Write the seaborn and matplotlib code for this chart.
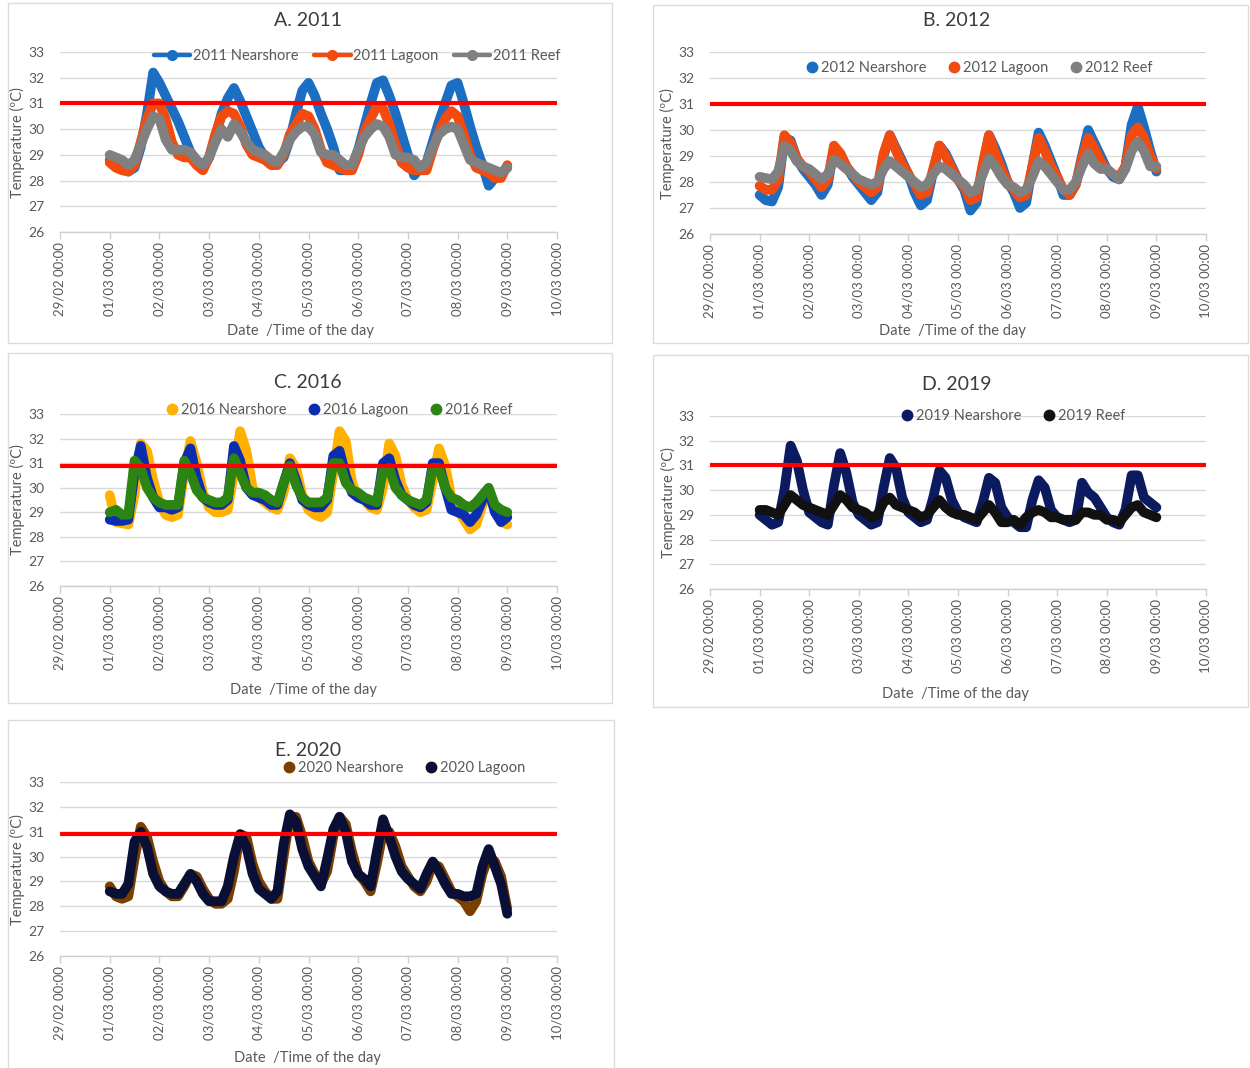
import numpy as np
import pandas as pd
import matplotlib
matplotlib.use("Agg")
import matplotlib.pyplot as plt
from matplotlib.lines import Line2D
from matplotlib.patches import Rectangle
import seaborn as sns

sns.set_theme(style="white")
plt.rcParams["font.family"] = ["Lato", "DejaVu Sans"]

W, H = 1250, 1068

# Logger readings every 3 h, in hours since 01/03 00:00
hours = list(range(0, 193, 3))

tick_labels = ["29/02 00:00", "01/03 00:00", "02/03 00:00", "03/03 00:00",
               "04/03 00:00", "05/03 00:00", "06/03 00:00", "07/03 00:00",
               "08/03 00:00", "09/03 00:00", "10/03 00:00"]

# ---- 2011 ----
ns_2011 = [28.8, 28.6, 28.45, 28.35, 28.5, 29.3, 30.6, 32.2,
           31.8, 31.3, 30.8, 30.3, 29.7, 29.1, 28.8, 28.5,
           28.9, 29.7, 30.6, 31.2, 31.6, 31.1, 30.5, 29.9,
           29.3, 28.9, 28.8, 28.7, 28.9, 29.6, 30.6, 31.5,
           31.8, 31.3, 30.6, 30.0, 29.3, 28.4, 28.4, 28.5,
           29.2, 30.1, 31.0, 31.8, 31.9, 31.3, 30.6, 29.8,
           29.0, 28.2, 28.5, 28.7, 29.5, 30.3, 31.0, 31.7,
           31.8, 31.0, 30.1, 29.3, 28.6, 27.8, 28.1, 28.3,
           28.5]
lag_2011 = [28.7, 28.5, 28.4, 28.35, 28.6, 29.5, 30.4, 31.0,
            31.0, 30.4, 29.5, 29.0, 28.9, 28.9, 28.6, 28.4,
            28.9, 29.8, 30.5, 30.7, 30.6, 30.1, 29.4, 29.0,
            28.9, 28.8, 28.6, 28.6, 29.0, 29.8, 30.2, 30.6,
            30.5, 30.0, 29.2, 28.7, 28.6, 28.5, 28.4, 28.4,
            29.0, 29.9, 30.4, 30.9, 30.8, 30.2, 29.4, 28.7,
            28.5, 28.4, 28.4, 28.4, 29.2, 29.9, 30.4, 30.7,
            30.5, 29.8, 29.0, 28.5, 28.4, 28.3, 28.1, 28.1,
            28.6]
reef_2011 = [29.0, 28.9, 28.8, 28.6, 28.8, 29.4, 30.0, 30.5,
             30.4, 29.6, 29.2, 29.2, 29.2, 29.1, 28.8, 28.6,
             28.9, 29.5, 30.0, 29.7, 30.2, 29.9, 29.5, 29.2,
             29.1, 29.0, 28.8, 28.7, 29.1, 29.6, 29.9, 30.1,
             30.1, 29.8, 29.1, 29.0, 29.0, 28.8, 28.6, 28.6,
             29.2, 29.7, 30.0, 30.2, 30.1, 29.7, 29.0, 28.9,
             28.9, 28.8, 28.5, 28.7, 29.3, 29.8, 30.0, 30.1,
             30.0, 29.4, 28.8, 28.7, 28.6, 28.5, 28.4, 28.3,
             28.5]

# ---- 2012 ----
ns_2012 = [27.5, 27.3, 27.25, 27.8, 29.7, 29.6, 28.9, 28.5,
           28.2, 27.9, 27.5, 27.9, 29.3, 29.1, 28.6, 28.2,
           27.9, 27.6, 27.3, 27.6, 29.0, 29.8, 29.3, 28.8,
           28.3, 27.6, 27.1, 27.3, 28.4, 29.4, 29.1, 28.6,
           28.1, 27.7, 26.9, 27.2, 28.6, 29.8, 29.3, 28.7,
           28.0, 27.6, 27.0, 27.2, 28.6, 29.9, 29.4, 28.8,
           28.2, 27.5, 27.5, 27.9, 29.0, 30.0, 29.5, 29.0,
           28.5, 28.2, 28.1, 28.6, 30.2, 30.9, 30.1, 29.2,
           28.4]
lag_2012 = [27.85, 27.7, 27.7, 28.1, 29.8, 29.5, 28.9, 28.6,
            28.4, 28.1, 27.8, 28.1, 29.4, 29.1, 28.6, 28.3,
            28.0, 27.8, 27.6, 27.8, 29.1, 29.8, 29.2, 28.7,
            28.3, 27.9, 27.5, 27.6, 28.5, 29.4, 29.0, 28.5,
            28.1, 27.8, 27.3, 27.4, 28.7, 29.8, 29.1, 28.5,
            28.0, 27.7, 27.4, 27.5, 28.6, 29.7, 29.2, 28.6,
            28.2, 27.7, 27.5, 27.9, 28.9, 29.7, 29.3, 28.8,
            28.5, 28.3, 28.2, 28.6, 29.8, 30.1, 29.7, 29.0,
            28.5]
reef_2012 = [28.2, 28.15, 28.1, 28.4, 29.4, 29.2, 28.8, 28.6,
             28.5, 28.3, 28.1, 28.3, 28.85, 28.7, 28.5, 28.3,
             28.1, 28.0, 27.9, 28.0, 28.5, 28.8, 28.6, 28.4,
             28.2, 28.0, 27.8, 27.9, 28.3, 28.6, 28.5, 28.3,
             28.1, 27.9, 27.6, 27.7, 28.3, 28.9, 28.6, 28.2,
             27.9, 27.8, 27.6, 27.7, 28.2, 28.8, 28.6, 28.3,
             28.0, 27.7, 27.7, 28.0, 28.6, 29.1, 28.7, 28.5,
             28.5, 28.3, 28.1, 28.5, 29.2, 29.55, 29.2, 28.6,
             28.6]

# ---- 2016 ----
ns_2016 = [29.7, 28.6, 28.55, 28.5, 29.7, 31.8, 31.5, 30.3,
           29.4, 28.9, 28.8, 28.9, 30.6, 31.9, 31.0, 29.8,
           29.2, 29.0, 29.0, 29.1, 30.6, 32.3, 31.5, 30.0,
           29.6, 29.4, 29.2, 29.1, 29.8, 31.2, 30.8, 29.7,
           29.1, 28.9, 28.8, 29.0, 30.6, 32.3, 31.9, 30.2,
           29.6, 29.5, 29.2, 29.1, 30.0, 31.8, 31.3, 30.1,
           29.5, 29.2, 29.0, 29.1, 30.3, 31.6, 30.9, 29.6,
           29.1, 28.7, 28.3, 28.5, 29.3, 29.8, 29.2, 28.6,
           28.5]
lag_2016 = [28.7, 28.65, 28.65, 28.7, 30.6, 31.7, 30.4, 29.6,
            29.2, 29.2, 29.1, 29.2, 31.0, 31.6, 30.4, 29.6,
            29.4, 29.3, 29.3, 29.5, 31.7, 31.1, 30.0, 29.7,
            29.6, 29.5, 29.3, 29.3, 30.2, 31.0, 30.3, 29.5,
            29.3, 29.2, 29.2, 29.5, 31.3, 31.5, 30.5, 29.8,
            29.6, 29.5, 29.3, 29.3, 31.0, 31.2, 30.3, 29.7,
            29.5, 29.3, 29.2, 29.4, 31.0, 31.0, 30.0, 29.1,
            29.0, 28.9, 28.6, 28.9, 29.5, 29.9, 29.0, 28.6,
            28.8]
reef_2016 = [29.0, 29.1, 28.9, 28.9, 31.1, 30.8, 30.0, 29.6,
             29.4, 29.3, 29.3, 29.3, 31.1, 30.6, 29.9, 29.6,
             29.5, 29.4, 29.4, 29.6, 31.2, 30.6, 30.0, 29.8,
             29.8, 29.7, 29.5, 29.4, 30.2, 30.9, 30.1, 29.6,
             29.4, 29.4, 29.4, 29.6, 31.0, 31.0, 30.2, 29.9,
             29.8, 29.6, 29.5, 29.4, 30.7, 30.8, 30.0, 29.7,
             29.5, 29.4, 29.3, 29.5, 30.8, 30.8, 30.0, 29.6,
             29.5, 29.3, 29.2, 29.4, 29.7, 30.0, 29.3, 29.1,
             29.0]

# ---- 2019 ----
ns_2019 = [29.0, 28.8, 28.6, 28.7, 30.0, 31.8, 31.2, 30.0,
           29.1, 28.9, 28.7, 28.6, 30.2, 31.5, 30.7, 29.5,
           29.0, 28.8, 28.6, 28.7, 30.1, 31.3, 30.9, 29.7,
           29.1, 28.9, 28.7, 28.8, 29.7, 30.8, 30.5, 29.6,
           29.1, 28.9, 28.8, 28.7, 29.5, 30.5, 30.3, 29.3,
           28.9, 28.7, 28.5, 28.5, 29.6, 30.4, 30.1, 29.2,
           28.9, 28.8, 28.7, 28.8, 30.3, 29.9, 29.7, 29.3,
           28.9, 28.7, 28.6, 29.2, 30.6, 30.6, 29.7, 29.5,
           29.3]
reef_2019 = [29.2, 29.2, 29.1, 29.0, 29.4, 29.8, 29.6, 29.4,
             29.3, 29.2, 29.1, 29.0, 29.4, 29.8, 29.6, 29.3,
             29.2, 29.1, 28.9, 29.0, 29.5, 29.7, 29.4, 29.3,
             29.2, 29.1, 28.9, 29.0, 29.3, 29.6, 29.3, 29.1,
             29.0, 29.0, 28.9, 28.8, 29.1, 29.4, 29.1, 28.7,
             28.7, 28.8, 28.6, 28.9, 29.1, 29.2, 29.1, 28.9,
             28.9, 28.8, 28.8, 28.8, 29.1, 29.1, 29.0, 29.0,
             28.8, 28.8, 28.7, 29.0, 29.3, 29.4, 29.1, 29.0,
             28.9]

# ---- 2020 ----
ns_2020 = [28.8, 28.4, 28.3, 28.4, 29.9, 31.2, 30.8, 29.8,
           29.0, 28.6, 28.4, 28.4, 28.8, 29.3, 29.2, 28.7,
           28.3, 28.1, 28.1, 28.3, 29.4, 30.9, 30.8, 29.7,
           29.0, 28.6, 28.3, 28.3, 30.0, 31.6, 31.6, 30.8,
           29.8, 29.3, 28.9, 29.4, 30.8, 31.6, 31.3, 30.2,
           29.3, 29.0, 28.6, 29.7, 31.0, 31.0, 30.4, 29.6,
           29.2, 28.8, 28.6, 29.0, 29.7, 29.6, 29.1, 28.6,
           28.4, 28.2, 27.8, 28.2, 29.3, 30.0, 29.8, 29.2,
           27.9]
lag_2020 = [28.6, 28.5, 28.5, 28.9, 30.6, 31.0, 30.4, 29.3,
            28.8, 28.6, 28.5, 28.5, 28.9, 29.3, 29.0, 28.5,
            28.2, 28.2, 28.2, 28.8, 30.0, 30.9, 30.4, 29.3,
            28.7, 28.5, 28.3, 28.6, 30.5, 31.7, 31.4, 30.3,
            29.6, 29.2, 28.8, 29.9, 31.1, 31.6, 31.0, 29.8,
            29.3, 29.1, 28.8, 30.2, 31.5, 30.8, 30.0, 29.4,
            29.1, 28.9, 28.7, 29.3, 29.8, 29.4, 28.9, 28.5,
            28.5, 28.4, 28.4, 28.5, 29.6, 30.3, 29.6, 28.9,
            27.7]

# Panel definitions: frame and plot-area boxes in pixels (left, top, right, bottom)
panels = [
    dict(title="A. 2011", box=(8, 3, 612, 343), plot=(60, 52, 557, 232),
         title_xy=(308, 20), ylab_xy=(17, 143), xlab_xy=(300, 331),
         legend_xy=(357, 56), threshold=31.0, with_lines=True,
         series=[("2011 Nearshore", ns_2011, "#1B6EC2"),
                 ("2011 Lagoon", lag_2011, "#F24B0F"),
                 ("2011 Reef", reef_2011, "#808080")]),
    dict(title="B. 2012", box=(653, 5, 1248, 343), plot=(710, 52, 1206, 234),
         title_xy=(957, 20), ylab_xy=(667, 144), xlab_xy=(952, 331),
         legend_xy=(980, 68), threshold=31.0, with_lines=False,
         series=[("2012 Nearshore", ns_2012, "#1B6EC2"),
                 ("2012 Lagoon", lag_2012, "#F24B0F"),
                 ("2012 Reef", reef_2012, "#808080")]),
    dict(title="C. 2016", box=(8, 353, 612, 703), plot=(60, 414, 557, 586),
         title_xy=(308, 383), ylab_xy=(17, 500), xlab_xy=(303, 690),
         legend_xy=(340, 410), threshold=30.9, with_lines=False,
         series=[("2016 Nearshore", ns_2016, "#FFB000"),
                 ("2016 Lagoon", lag_2016, "#0B2DB0"),
                 ("2016 Reef", reef_2016, "#2C8512")]),
    dict(title="D. 2019", box=(653, 355, 1248, 707), plot=(710, 416, 1206, 589),
         title_xy=(957, 385), ylab_xy=(668, 503), xlab_xy=(955, 694),
         legend_xy=(1014, 416), threshold=31.0, with_lines=False,
         series=[("2019 Nearshore", ns_2019, "#0C1A60"),
                 ("2019 Reef", reef_2019, "#111111")]),
    dict(title="E. 2020", box=(8, 720, 614, 1080), plot=(60, 782, 557, 956),
         title_xy=(308, 750), ylab_xy=(17, 870), xlab_xy=(307, 1058),
         legend_xy=(405, 768), threshold=30.9, with_lines=False,
         series=[("2020 Nearshore", ns_2020, "#7B3F00"),
                 ("2020 Lagoon", lag_2020, "#0A0F35")]),
]

TEXT = "#595959"
GRID = "#D9D9D9"


def fx(x):
    return x / W


def fy(y):
    return 1 - y / H


fig = plt.figure(figsize=(W / 100, H / 100), dpi=100)
fig.patch.set_facecolor("white")

days = np.array(hours) / 24.0
xticks = list(range(-1, 10))

for p in panels:
    l, t, r, b = p["box"]
    fig.patches.append(Rectangle((fx(l), fy(b)), fx(r - l), (b - t) / H,
                                 transform=fig.transFigure, fill=False,
                                 edgecolor="#DCDCDC", lw=1.0, zorder=0))

    pl, pt, pr, pb = p["plot"]
    ax = fig.add_axes([fx(pl), fy(pb), fx(pr - pl), (pb - pt) / H])
    ax.set_facecolor("none")

    names = [s[0] for s in p["series"]]
    palette = {s[0]: s[2] for s in p["series"]}
    df = pd.concat([pd.DataFrame({"day": days, "temp": s[1], "series": s[0]})
                    for s in p["series"]], ignore_index=True)
    sns.lineplot(data=df, x="day", y="temp", hue="series", hue_order=names,
                 palette=palette, estimator=None, sort=False, lw=7,
                 legend=False, ax=ax, zorder=3)
    for ln in ax.lines:
        ln.set_solid_capstyle("round")
        ln.set_solid_joinstyle("round")

    ax.axhline(p["threshold"], color="#FF0000", lw=3, zorder=6)

    ax.set_xlim(-1, 9)
    ax.set_ylim(26, 33)
    ax.set_yticks(range(26, 34))
    ax.set_xticks(xticks)
    ax.set_xticklabels(tick_labels, rotation=90, fontsize=9.5, color=TEXT)
    ax.tick_params(axis="y", length=0, pad=11, labelsize=10, labelcolor=TEXT)
    ax.tick_params(axis="x", length=5, width=1, color="#CFCFCF", pad=2,
                   direction="out", bottom=True)
    ax.set_xlabel("")
    ax.set_ylabel("")
    ax.yaxis.grid(True, color=GRID, lw=1)
    ax.xaxis.grid(False)
    ax.set_axisbelow(True)
    for side in ("left", "right", "top"):
        ax.spines[side].set_visible(False)
    ax.spines["bottom"].set_color("#CFCFCF")
    ax.spines["bottom"].set_linewidth(1)

    if p["with_lines"]:
        handles = [Line2D([], [], color=s[2], lw=3.2, marker="o", ms=7)
                   for s in p["series"]]
        leg_kw = dict(handlelength=2.5, handletextpad=0.15, columnspacing=1.1)
    else:
        handles = [Line2D([], [], color=s[2], ls="none", marker="o", ms=7.5)
                   for s in p["series"]]
        leg_kw = dict(handlelength=0.6, handletextpad=0.3, columnspacing=1.6)
    ax.legend(handles, names, loc="center", ncol=len(names), frameon=False,
              bbox_to_anchor=(fx(p["legend_xy"][0]), fy(p["legend_xy"][1])),
              bbox_transform=fig.transFigure, fontsize=10.5, labelcolor=TEXT,
              borderaxespad=0, borderpad=0, **leg_kw)

    fig.text(fx(p["title_xy"][0]), fy(p["title_xy"][1]), p["title"],
             ha="center", va="center", fontsize=14, color="#3C3C3C")
    fig.text(fx(p["ylab_xy"][0]), fy(p["ylab_xy"][1]), "Temperature (ºC)",
             ha="center", va="center", rotation=90, fontsize=10.5, color=TEXT)
    fig.text(fx(p["xlab_xy"][0]), fy(p["xlab_xy"][1]), "Date  /Time of the day",
             ha="center", va="center", fontsize=10.5, color=TEXT)

fig.savefig("out.png", dpi=100, facecolor="white")
